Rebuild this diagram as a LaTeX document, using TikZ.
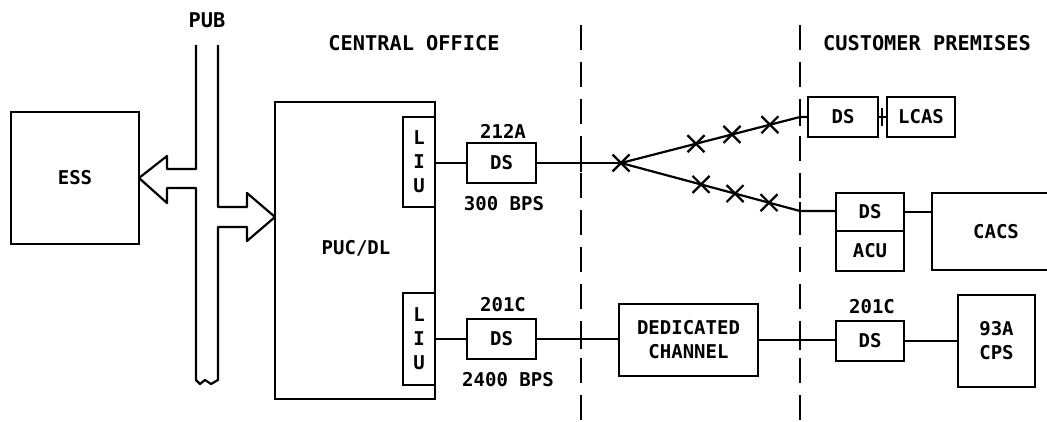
\documentclass[tikz,border=0pt]{standalone}
\usepackage{fontspec}
\newfontfamily\lblfont{DejaVu Sans Mono}[FakeBold=0]
\usetikzlibrary{shapes.misc}
\begin{document}
\begin{tikzpicture}[x=1pt,y=-1pt,
  every node/.style={inner sep=0pt, outer sep=0pt},
  ln/.style={line width=2.2pt, line join=round},
  box/.style={draw, line width=2.2pt, rectangle, font=\lblfont\bfseries\fontsize{19}{24}\selectfont, align=center},
  lbl/.style={font=\lblfont\bfseries\fontsize{19}{24}\selectfont, align=center},
  ttl/.style={font=\lblfont\bfseries\fontsize{20.3}{24}\selectfont},
  xmark/.style={draw, cross out, line width=2.2pt, minimum size=17pt},
  divider/.style={line width=2.2pt, dash pattern=on 25pt off 12pt}]
\useasboundingbox (0,0) rectangle (1047,422);
% titles
\node[ttl] (pub) at (207,20) {PUB};
\node[ttl] (co) at (414,43) {CENTRAL OFFICE};
\node[ttl] (cp) at (927,43) {CUSTOMER PREMISES};
% dividers
\draw[divider] (581,25) -- (581,430);
\draw[divider] (800,25) -- (800,430);
\draw[ln] (581,154) -- (581,172) (581,331) -- (581,349)
          (800,108) -- (800,126) (800,202) -- (800,220) (800,332) -- (800,350);
% boxes
\node[box, minimum width=128pt, minimum height=132pt] (ess) at (75,178) {ESS};
\node[box, minimum width=160pt, minimum height=297pt] (puc) at (355,250.5) {};
\node[lbl] (puctext) at (356,248) {PUC/DL};
\node[box, minimum width=32pt, minimum height=90pt] (liu1) at (419,162) {L\\I\\U};
\node[box, minimum width=32pt, minimum height=92pt] (liu2) at (419,339) {L\\I\\U};
\node[box, minimum width=69pt, minimum height=40pt] (ds1) at (501.5,163) {DS};
\node[box, minimum width=69pt, minimum height=40pt] (ds2) at (501.5,339) {DS};
\node[box, minimum width=139pt, minimum height=72pt] (ded) at (688.5,340) {DEDICATED\\CHANNEL};
\node[box, minimum width=70pt, minimum height=40pt] (ds3) at (843,117) {DS};
\node[box, minimum width=68pt, minimum height=40pt] (lcas) at (921,117) {LCAS};
\node[box, minimum width=68pt, minimum height=38pt] (ds4) at (870,212) {DS};
\node[box, minimum width=68pt, minimum height=40pt] (acu) at (870,251) {ACU};
\node[box, minimum width=128pt, minimum height=77pt] (cacs) at (996,231.5) {CACS};
\node[box, minimum width=68pt, minimum height=40pt] (ds5) at (870,341) {DS};
\node[box, minimum width=77pt, minimum height=92pt] (cps) at (996.5,341) {93A\\CPS};
% labels
\node[lbl] (l212) at (503,131) {212A};
\node[lbl] (l300) at (504,204) {300 BPS};
\node[lbl] (l201a) at (503,305) {201C};
\node[lbl] (l2400) at (508,380) {2400 BPS};
\node[lbl] (l201b) at (872,307) {201C};
% bus with arrows
\draw[ln] (196,45) -- (196,169) -- (167,169) -- (167,156) -- (139,178) -- (167,203) -- (167,188) -- (196,188)
   -- (196,380) -- (200,384) -- (205,380) -- (211,384) -- (218,380)
   -- (218,227) -- (247,227) -- (247,241) -- (275,217) -- (247,193) -- (247,207) -- (218,207) -- (218,45);
% connectors
\coordinate (x0) at (621,163);
\coordinate (up) at (800,117);
\coordinate (lo) at (800,211);
\coordinate (tick) at (882,117);
\draw[ln] (liu1.east |- ds1.west) -- (ds1.west);
\draw[ln] (ds1.east) -- (x0);
\node[xmark] (xc) at (x0) {};
\draw[ln] (x0) -- node[xmark, pos=0.419] (xu1) {} node[xmark, pos=0.62] (xu2) {} node[xmark, pos=0.832] (xu3) {} (up) -- (ds3.west);
\draw[ln] (x0) -- node[xmark, pos=0.447] (xl1) {} node[xmark, pos=0.637] (xl2) {} node[xmark, pos=0.827] (xl3) {} (lo) -- (lo -| ds4.west);
\draw[ln] (ds3.east) -- (lcas.west);
\draw[ln] ([yshift=-9pt]tick) -- ([yshift=9pt]tick);
\draw[ln] (ds4.east) -- (ds4.east -| cacs.west);
\draw[ln] (liu2.east) -- (ds2.west);
\draw[ln] (ds2.east) -- (ds2.east -| ded.west);
\draw[ln] (ded.east) -- (ded.east -| ds5.west);
\draw[ln] (ds5.east) -- (ds5.east -| cps.west);
\end{tikzpicture}
\end{document}
